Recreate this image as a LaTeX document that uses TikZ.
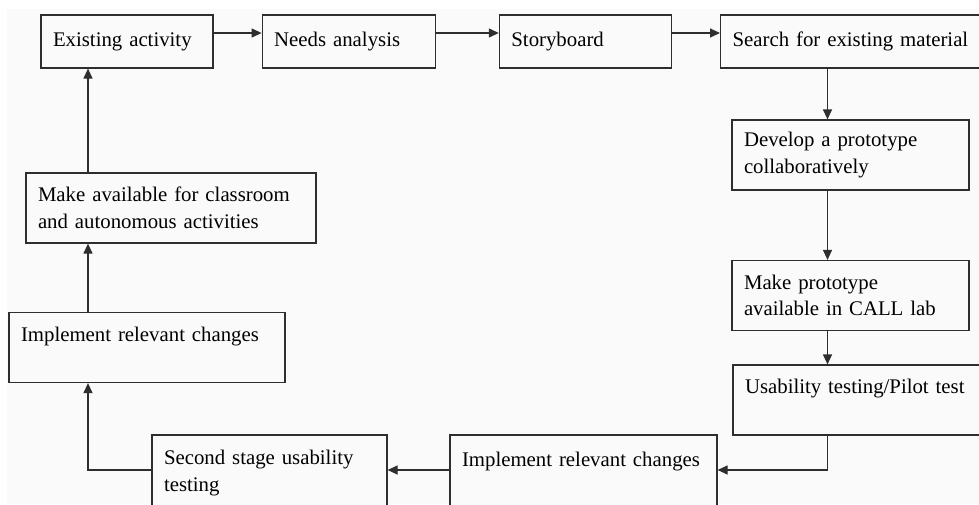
\documentclass[tikz,border=0pt]{standalone}
\usepackage{fontspec}
\setmainfont{Liberation Serif}
\usepackage{xcolor}
\usepackage{tikz}
\usetikzlibrary{positioning,backgrounds,arrows.meta}
\definecolor{frame}{HTML}{2E2E2E}
\definecolor{paper}{HTML}{FAFAFA}

\begin{document}
\begin{tikzpicture}[
  x=1pt, y=-1pt,
  font=\fontsize{20.8pt}{26.7pt}\selectfont,
  box/.style={draw=frame, line width=1.2pt, fill=paper, align=left, inner xsep=12pt, inner ysep=0pt, minimum height=53pt},
  tall/.style={box, minimum height=70pt},
  arr/.style={-{Triangle[length=10pt,width=9pt]}, line width=1.2pt, frame},
  node distance=48pt,
]
\useasboundingbox (0,0) rectangle (979,504);
\clip (0,0) rectangle (979,504);
\coordinate (lx) at (88,0);
\coordinate (rx) at (827.5,0);
\coordinate (ty) at (0,33);
\coordinate (by) at (0,470);
% top row
\node[box, text width=148pt] (exist) at (127,41.5) {Existing activity};
\node[box, text width=149pt, right=48pt of exist] (needs) {Needs analysis};
\node[box, text width=148pt, right=63pt of needs] (story) {Storyboard};
\node[box, text width=250pt, right=48pt of story] (search) {Search for existing material};
% right column
\node[tall, text width=213pt] (proto) at (850.5,155) {Develop a prototype\\collaboratively};
\node[tall, text width=213pt] (lab) at (850.5,295.5) {Make prototype\\available in CALL lab};
\node[tall, text width=234pt] (pilot) at (862,400) {Usability testing/Pilot test\\\mbox{}};
% bottom row runs off the page
\node[tall, minimum height=76pt, text width=243pt] (implR) at (583.5,473) {Implement relevant changes\\\mbox{}};
\node[tall, minimum height=76pt, text width=211pt] (second) at (269.5,473) {Second stage usability\\testing};
% left column
\node[tall, text width=252pt] (implL) at (147,347.5) {Implement relevant changes\\\mbox{}};
\node[tall, text width=266pt] (avail) at (171,208) {Make available for classroom\\and autonomous activities};
\draw[arr] (exist.east |- ty) -- (needs.west |- ty);
\draw[arr] (needs.east |- ty) -- (story.west |- ty);
\draw[arr] (story.east |- ty) -- (search.west |- ty);
\draw[arr] (search.south -| rx) -- (proto.north -| rx);
\draw[arr] (proto.south -| rx) -- (lab.north -| rx);
\draw[arr] (lab.south -| rx) -- (pilot.north -| rx);
\draw[arr] (pilot.south -| rx) |- (implR.east |- by);
\draw[arr] (implR.west |- by) -- (second.east |- by);
\draw[arr] (second.west |- by) -| (implL.south -| lx);
\draw[arr] (implL.north -| lx) -- (avail.south -| lx);
\draw[arr] (avail.north -| lx) -- (exist.south -| lx);
\begin{scope}[on background layer]
\fill[white] (0,0) rectangle (979,504);
\fill[paper] (7,9) rectangle (979,504);
\end{scope}
\end{tikzpicture}
\end{document}
